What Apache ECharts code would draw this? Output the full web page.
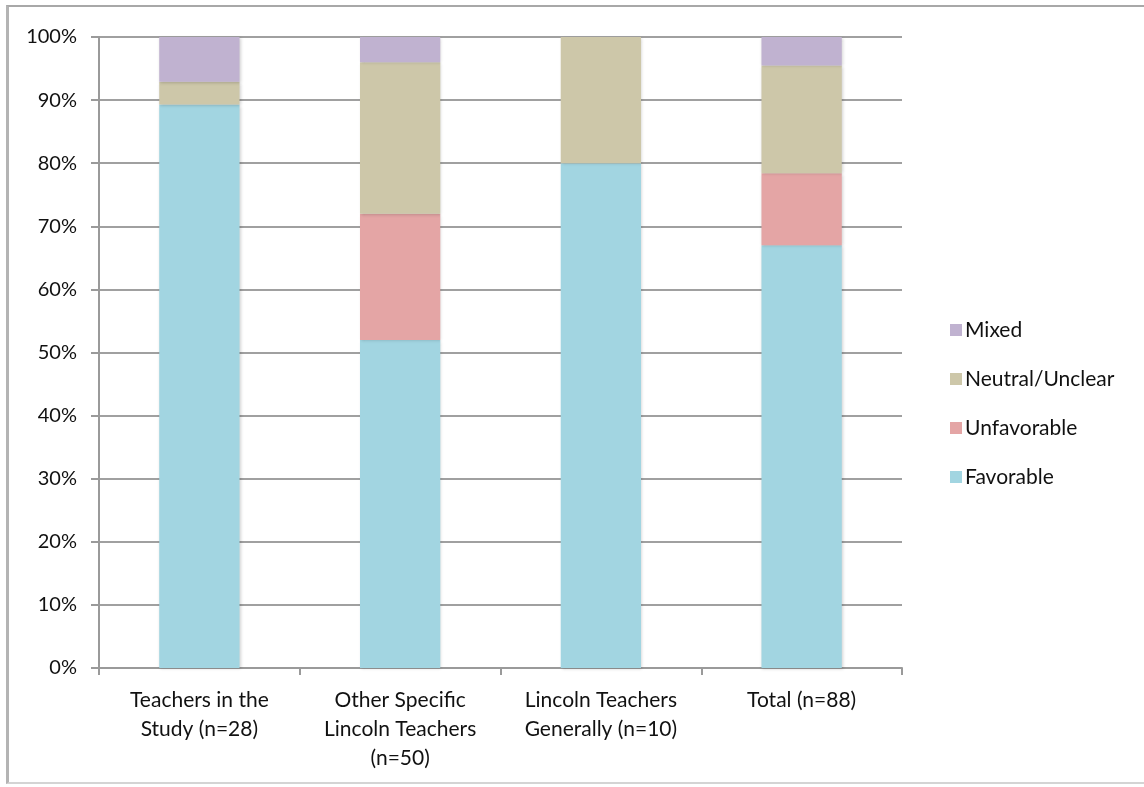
<!DOCTYPE html>
<html>
<head>
<meta charset="utf-8">
<script src="https://cdn.jsdelivr.net/npm/echarts@6/dist/echarts.min.js"></script>
<style>
  html, body { margin: 0; padding: 0; background: #ffffff; }
  #frame {
    position: absolute; left: 6px; top: 5px; width: 1150px; height: 779px;
    border-left: 3px solid #b4b4b4; border-top: 2px solid #a8a8a8; border-bottom: 2px solid #d4d4d4;
    box-sizing: border-box;
  }
  #chart { position: absolute; left: 0; top: 0; width: 1144px; height: 787px; }
</style>
</head>
<body>
<div id="frame"></div>
<div id="chart"></div>
<script>
// Share of responses (%) for each group of teachers
const categories = [
  'Teachers in the\nStudy (n=28)',
  'Other Specific\nLincoln Teachers\n(n=50)',
  'Lincoln Teachers\nGenerally (n=10)',
  'Total (n=88)'
];
const favorable   = [89.3, 52.0, 80.0, 67.0];
const unfavorable = [0.0, 20.0, 0.0, 11.4];
const neutral     = [3.6, 24.0, 20.0, 17.1];
const mixed       = [7.1, 4.0, 0.0, 4.5];
const yTicks = [0, 10, 20, 30, 40, 50, 60, 70, 80, 90, 100];

const colors = {
  Favorable: '#a2d5e1',
  Unfavorable: '#e4a5a5',
  'Neutral/Unclear': '#cdc7a9',
  Mixed: '#c0b2d0'
};

const font = 'Lato, "Open Sans", sans-serif';
const textColor = '#111111';
const chart = echarts.init(document.getElementById('chart'), null, { renderer: 'canvas' });

function seg(name, values) {
  return {
    name: name,
    type: 'bar',
    stack: 'share',
    data: values,
    barWidth: '40%',
    itemStyle: {
      color: colors[name],
      shadowBlur: 3,
      shadowOffsetX: 1,
      shadowOffsetY: 1,
      shadowColor: 'rgba(0,0,0,0.18)'
    },
    emphasis: { disabled: true }
  };
}

chart.setOption({
  animation: false,
  backgroundColor: 'transparent',
  grid: { left: 99, right: 242, top: 37, bottom: 119, containLabel: false },
  legend: {
    orient: 'vertical',
    left: 945,
    top: 314,
    icon: 'rect',
    itemWidth: 12,
    itemHeight: 12,
    itemGap: 27,
    data: ['Mixed', 'Neutral/Unclear', 'Unfavorable', 'Favorable'],
    textStyle: { fontFamily: font, fontSize: 21, color: textColor, lineHeight: 22, padding: [0, 0, 0, -2] }
  },
  xAxis: {
    type: 'category',
    data: categories,
    axisLine: { lineStyle: { color: '#9a9a9a', width: 2 } },
    axisTick: { show: true, length: 7, lineStyle: { color: '#9a9a9a', width: 2 } },
    axisLabel: {
      fontFamily: font, fontSize: 21, color: textColor, lineHeight: 29, margin: 18,
      interval: 0
    }
  },
  yAxis: {
    type: 'value',
    min: 0,
    max: 100,
    interval: 10,
    axisLine: { show: true, lineStyle: { color: '#9a9a9a', width: 2 } },
    axisTick: { show: true, length: 8, lineStyle: { color: '#9a9a9a', width: 2 } },
    splitLine: { lineStyle: { color: '#a0a0a0', width: 2 } },
    axisLabel: {
      fontFamily: font, fontSize: 20, color: textColor, margin: 22,
      formatter: function (v) { return yTicks.indexOf(v) >= 0 ? v + '%' : ''; }
    }
  },
  series: [
    seg('Favorable', favorable),
    seg('Unfavorable', unfavorable),
    seg('Neutral/Unclear', neutral),
    seg('Mixed', mixed)
  ]
});
</script>
</body>
</html>
